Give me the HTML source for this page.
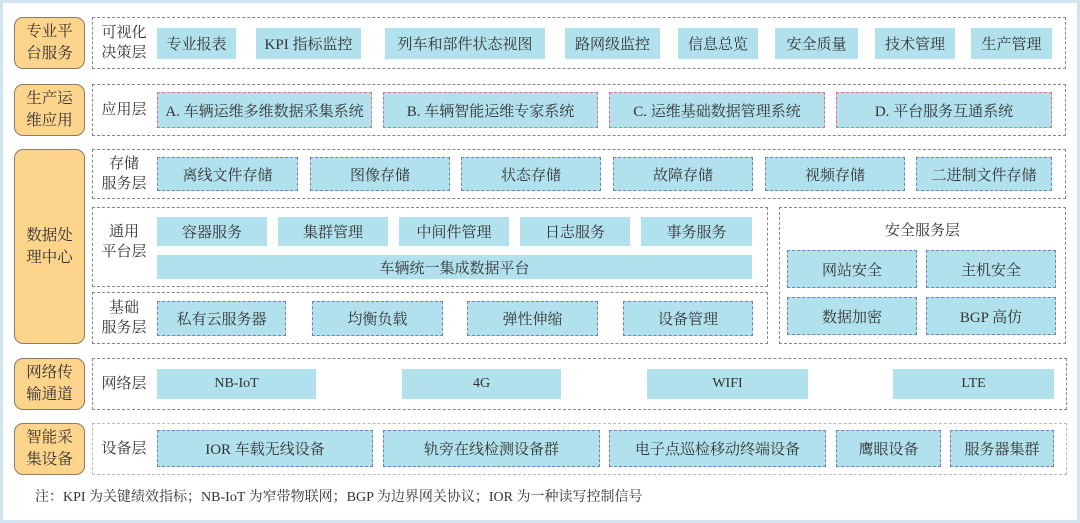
<!DOCTYPE html>
<html><head><meta charset="utf-8"><style>
*{margin:0;padding:0;box-sizing:border-box}
body{width:1080px;height:523px;background:#fff;position:relative;overflow:hidden;font-family:"Liberation Serif","Noto Serif CJK SC",serif;color:#333}
.frame{position:absolute;left:0;top:0;width:1080px;height:523px;border:3px solid #d3e5f0}
.o{position:absolute;left:14px;width:71px;background:#fdd48b;border:1px solid #8b7b63;border-radius:9px;display:flex;align-items:center;justify-content:center;text-align:center;font-size:15.5px;line-height:22px;padding:0 5px}
.c{position:absolute;border:1px dashed #888}
.l{position:absolute;font-size:15px;line-height:20px;text-align:center;width:56px;left:96px;display:flex;align-items:center;justify-content:center}
.b{position:absolute;background:#b1e1ec;display:flex;align-items:center;justify-content:center;font-size:15px;white-space:nowrap}
.bd{border:1.5px dashed #6f80bb}
.rd{border:1.5px dashed #e0707a}
</style></head><body>
<div class="frame"></div>

<div class="o" style="top:17px;height:52px">专业平台服务</div>
<div class="o" style="top:84px;height:52px">生产运维应用</div>
<div class="o" style="top:149px;height:195px">数据处理中心</div>
<div class="o" style="top:358px;height:52px">网络传输通道</div>
<div class="o" style="top:423px;height:52px">智能采集设备</div>

<div class="c" style="left:92px;top:17px;width:974px;height:52px"></div>
<div class="c" style="left:92px;top:84px;width:974px;height:52px"></div>
<div class="c" style="left:92px;top:149px;width:974px;height:50px"></div>
<div class="c" style="left:92px;top:207px;width:676px;height:80px"></div>
<div class="c" style="left:92px;top:292px;width:676px;height:52px"></div>
<div class="c" style="left:779px;top:207px;width:287px;height:137px"></div>
<div class="c" style="left:92px;top:358px;width:975px;height:52px"></div>
<div class="c" style="left:92px;top:423px;width:975px;height:52px;border-color:#bbb"></div>

<div class="l" style="top:23px;height:40px">可视化<br>决策层</div>
<div class="l" style="top:100px;height:20px">应用层</div>
<div class="l" style="top:154px;height:40px">存储<br>服务层</div>
<div class="l" style="top:222px;height:40px">通用<br>平台层</div>
<div class="l" style="top:298px;height:40px">基础<br>服务层</div>
<div class="l" style="top:374px;height:20px">网络层</div>
<div class="l" style="top:439px;height:20px">设备层</div>

<div class="b" style="left:157px;top:28px;width:79px;height:31px">专业报表</div>
<div class="b" style="left:256px;top:28px;width:105px;height:31px">KPI 指标监控</div>
<div class="b" style="left:385px;top:28px;width:160px;height:31px">列车和部件状态视图</div>
<div class="b" style="left:565px;top:28px;width:95px;height:31px">路网级监控</div>
<div class="b" style="left:678px;top:28px;width:80px;height:31px">信息总览</div>
<div class="b" style="left:775px;top:28px;width:83px;height:31px">安全质量</div>
<div class="b" style="left:875px;top:28px;width:80px;height:31px">技术管理</div>
<div class="b" style="left:971px;top:28px;width:81px;height:31px">生产管理</div>

<div class="b rd" style="left:157px;top:92px;width:215px;height:36px">A. 车辆运维多维数据采集系统</div>
<div class="b rd" style="left:383px;top:92px;width:215px;height:36px">B. 车辆智能运维专家系统</div>
<div class="b rd" style="left:609px;top:92px;width:216px;height:36px">C. 运维基础数据管理系统</div>
<div class="b rd" style="left:836px;top:92px;width:216px;height:36px">D. 平台服务互通系统</div>

<div class="b bd" style="left:157px;top:157px;width:141px;height:34px">离线文件存储</div>
<div class="b bd" style="left:310px;top:157px;width:140px;height:34px">图像存储</div>
<div class="b bd" style="left:461px;top:157px;width:140px;height:34px">状态存储</div>
<div class="b bd" style="left:613px;top:157px;width:140px;height:34px">故障存储</div>
<div class="b bd" style="left:765px;top:157px;width:140px;height:34px">视频存储</div>
<div class="b bd" style="left:916px;top:157px;width:136px;height:34px">二进制文件存储</div>

<div class="b" style="left:157px;top:217px;width:110px;height:29px">容器服务</div>
<div class="b" style="left:278px;top:217px;width:110px;height:29px">集群管理</div>
<div class="b" style="left:399px;top:217px;width:110px;height:29px">中间件管理</div>
<div class="b" style="left:520px;top:217px;width:110px;height:29px">日志服务</div>
<div class="b" style="left:641px;top:217px;width:111px;height:29px">事务服务</div>
<div class="b" style="left:157px;top:255px;width:595px;height:24px">车辆统一集成数据平台</div>

<div class="b bd" style="left:157px;top:301px;width:129px;height:35px">私有云服务器</div>
<div class="b bd" style="left:312px;top:301px;width:131px;height:35px">均衡负载</div>
<div class="b bd" style="left:467px;top:301px;width:131px;height:35px">弹性伸缩</div>
<div class="b bd" style="left:623px;top:301px;width:130px;height:35px">设备管理</div>

<div style="position:absolute;left:779px;top:219px;width:287px;text-align:center;font-size:15px">安全服务层</div>
<div class="b bd" style="left:787px;top:250px;width:130px;height:38px">网站安全</div>
<div class="b bd" style="left:926px;top:250px;width:130px;height:38px">主机安全</div>
<div class="b bd" style="left:787px;top:297px;width:130px;height:38px">数据加密</div>
<div class="b bd" style="left:926px;top:297px;width:130px;height:38px">BGP 高仿</div>

<div class="b" style="left:157px;top:369px;width:159px;height:30px;font-size:14px">NB-IoT</div>
<div class="b" style="left:402px;top:369px;width:159px;height:30px;font-size:14px">4G</div>
<div class="b" style="left:647px;top:369px;width:161px;height:30px;font-size:14px">WIFI</div>
<div class="b" style="left:893px;top:369px;width:161px;height:30px;font-size:14px">LTE</div>

<div class="b bd" style="left:157px;top:430px;width:216px;height:37px">IOR 车载无线设备</div>
<div class="b bd" style="left:383px;top:430px;width:217px;height:37px">轨旁在线检测设备群</div>
<div class="b bd" style="left:609px;top:430px;width:217px;height:37px">电子点巡检移动终端设备</div>
<div class="b bd" style="left:836px;top:430px;width:105px;height:37px">鹰眼设备</div>
<div class="b bd" style="left:950px;top:430px;width:104px;height:37px">服务器集群</div>

<div style="position:absolute;left:35px;top:486px;font-size:14px;white-space:nowrap">注：KPI 为关键绩效指标；NB-IoT 为窄带物联网；BGP 为边界网关协议；IOR 为一种读写控制信号</div>
</body></html>
